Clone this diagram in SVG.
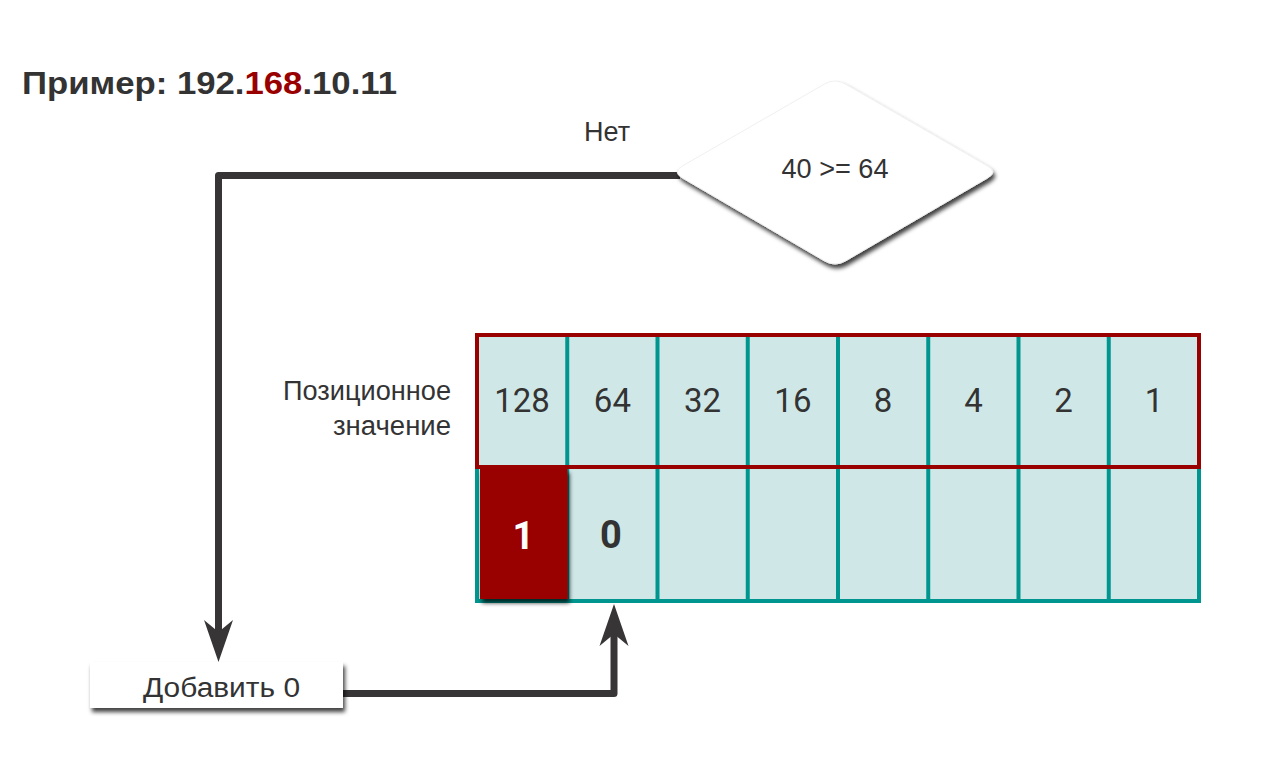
<svg xmlns="http://www.w3.org/2000/svg" width="1261" height="765" viewBox="0 0 1261 765">
  <style>
    text { font-family: "Liberation Sans", Arial, sans-serif; fill: #333333; }
    .lbl { font-size: 27px; }
    .pv { font-size: 33px; text-anchor: middle; font-family: Roboto, "Liberation Sans", sans-serif; }
    .bit { font-size: 38px; font-weight: bold; text-anchor: middle; font-family: Roboto, "Liberation Sans", sans-serif; }
    .conn { fill: none; stroke: #383536; stroke-width: 7; stroke-linejoin: round; }
    .teal { stroke: #00968f; stroke-width: 4; fill: none; }
  </style>
  <defs>
    <filter id="shadow" x="-10%" y="-10%" width="130%" height="140%">
      <feDropShadow dx="2" dy="4" stdDeviation="2" flood-color="#000" flood-opacity="0.75"/>
    </filter>
    <marker id="arrow" markerUnits="userSpaceOnUse" markerWidth="44" markerHeight="32" viewBox="0 -16 44 32" refX="12" refY="0" orient="auto">
      <path d="M0,-14.5 L42,0 L0,14.5 L12,0 Z" fill="#383536"/>
    </marker>
  </defs>
  <rect width="1261" height="765" fill="#ffffff"/>

  <text x="22" y="94" font-size="32" font-weight="bold" textLength="375" lengthAdjust="spacingAndGlyphs">Пример: 192.<tspan fill="#990000">168</tspan>.10.11</text>

  <g id="connectors">
    <path class="conn" d="M680,175.5 H218.5 V632" marker-end="url(#arrow)"/>
    <path class="conn" d="M340,693.5 H614 V634" marker-end="url(#arrow)"/>
  </g>

  <g id="label-no">
    <text class="lbl" x="607" y="141" text-anchor="middle" textLength="46" lengthAdjust="spacingAndGlyphs">Нет</text>
  </g>

  <g id="decision">
    <path d="M682.4,166 L824.6,84 Q835,78 845.4,84 L987.6,166 Q998,172 987.6,178 L845.4,261 Q835,267 824.6,261 L682.4,178 Q672,172 682.4,166 Z" fill="#ffffff" stroke="#f0f0f0" stroke-width="1" filter="url(#shadow)"/>
    <text class="lbl" x="835" y="178" text-anchor="middle" textLength="107" lengthAdjust="spacingAndGlyphs">40 &gt;= 64</text>
  </g>

  <g id="add-zero">
    <rect x="90" y="662" width="253" height="46" fill="#ffffff" filter="url(#shadow)"/>
    <text class="lbl" x="221.5" y="697" text-anchor="middle" textLength="157" lengthAdjust="spacingAndGlyphs">Добавить 0</text>
  </g>

  <g id="position-label">
    <text class="lbl" x="451" y="400" text-anchor="end" textLength="168" lengthAdjust="spacingAndGlyphs">Позиционное</text>
    <text class="lbl" x="451" y="435" text-anchor="end" textLength="118" lengthAdjust="spacingAndGlyphs">значение</text>
  </g>

  <g id="grid">
    <rect x="477" y="335" width="722" height="266" fill="#cfe8e7"/>
    <rect class="teal" x="477" y="335" width="722" height="266"/>
    <path class="teal" d="M567.25,335 V601 M657.5,335 V601 M747.75,335 V601 M838,335 V601 M928.25,335 V601 M1018.5,335 V601 M1108.75,335 V601"/>
    <rect x="477" y="335" width="722" height="132" fill="none" stroke="#990000" stroke-width="4"/>
    <text class="pv" x="522" y="412">128</text>
    <text class="pv" x="612.4" y="412">64</text>
    <text class="pv" x="702.6" y="412">32</text>
    <text class="pv" x="792.9" y="412">16</text>
    <text class="pv" x="883.1" y="412">8</text>
    <text class="pv" x="973.4" y="412">4</text>
    <text class="pv" x="1063.6" y="412">2</text>
    <text class="pv" x="1153.9" y="412">1</text>
  </g>

  <g id="bit-1">
    <rect x="480" y="469" width="87.5" height="130" fill="#990000" filter="url(#shadow)"/>
    <text class="bit" x="523.5" y="549" style="fill:#ffffff">1</text>
  </g>
  <g id="bit-0">
    <text class="bit" x="611" y="548">0</text>
  </g>
</svg>
